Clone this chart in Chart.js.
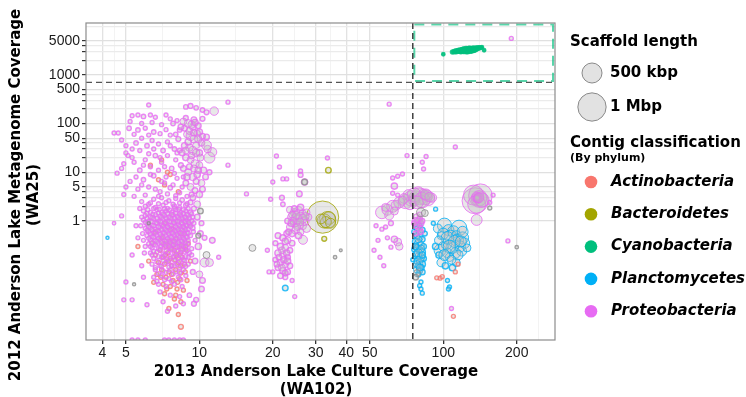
<!DOCTYPE html>
<html>
<head>
<meta charset="utf-8">
<script src="https://cdn.jsdelivr.net/npm/chart.js@4.4.1/dist/chart.umd.min.js"></script>
<style>
  html, body { margin: 0; padding: 0; background: #fff; }
  #wrap { width: 746px; height: 397px; }
</style>
</head>
<body>
<div id="wrap"><canvas id="chart" width="746" height="397"></canvas></div>
<script>
const phyla = ['Actinobacteria', 'Bacteroidetes', 'Cyanobacteria', 'Planctomycetes', 'Proteobacteria'];
const phylumColors = ['#F8766D', '#A3A500', '#00BF7D', '#00B0F6', '#E76BF3'];

const xTickLabels = [4, 5, 10, 20, 30, 40, 50, 100, 200];
const xMinorGrid = [4.47, 7.07, 14.1, 24.5, 34.6, 44.7, 70.7, 141, 245];
const yTickLabels = [1, 5, 10, 50, 100, 500, 1000, 5000];
const yMinorTicks = [2, 3, 4, 20, 30, 40, 200, 300, 400, 2000, 3000, 4000, 10000];

const cultureCutoff = 75;
const metagenomeCutoff = 700;

const scaffoldLegendKbp = [500, 1000];
const scaffoldLegendLabels = ['500 kbp', '1 Mbp'];

// [culture coverage (WA102), metagenome coverage (WA25), scaffold length kbp]
const actinobacteria = [
  [7.0, 0.45, 20], [7.5, 0.38, 20], [8.0, 0.42, 20], [7.3, 0.3, 20], [7.8, 0.32, 20], [8.3, 0.3, 20],
  [6.9, 0.25, 20], [7.4, 0.22, 20], [7.9, 0.25, 20], [8.4, 0.23, 20], [8.8, 0.26, 20], [7.1, 0.18, 20],
  [7.6, 0.17, 20], [8.1, 0.19, 20], [8.5, 0.18, 20], [6.8, 0.14, 20], [7.2, 0.13, 20], [7.7, 0.12, 20],
  [8.2, 0.14, 20], [8.7, 0.13, 20], [7.0, 0.1, 20], [7.5, 0.09, 20], [8.0, 0.1, 20], [8.4, 0.085, 20],
  [6.7, 0.08, 20], [7.3, 0.07, 20], [7.8, 0.06, 20], [8.3, 0.065, 20], [8.9, 0.06, 20], [7.1, 0.05, 20],
  [7.6, 0.045, 20], [8.1, 0.04, 20], [8.6, 0.038, 20], [7.2, 0.032, 20], [7.9, 0.025, 20], [8.4, 0.022, 20],
  [7.5, 0.016, 20], [8.2, 0.012, 20], [8.4, 0.0067, 30], [6.6, 0.6, 20], [7.7, 0.7, 20], [8.5, 0.55, 20],
  [7.2, 0.9, 20], [6.4, 0.35, 20], [9.0, 0.35, 20], [9.2, 0.15, 20], [6.2, 0.15, 20], [6.5, 0.055, 20],
  [5.6, 0.3, 20], [7.0, 18, 20], [7.4, 10, 20], [7.6, 9, 20], [7.2, 5.5, 20], [6.8, 7, 20], [8.2, 4, 20],
  [6.3, 14, 20], [7.25, 0.2, 20], [7.65, 0.28, 20], [8.05, 0.21, 20], [8.6, 0.3, 20], [7.45, 0.15, 20],
  [7.95, 0.16, 20], [8.35, 0.12, 20], [6.95, 0.07, 20], [7.7, 0.08, 20], [8.15, 0.055, 20], [7.35, 0.04, 20],
  [8.0, 0.03, 20], [7.85, 0.38, 20], [7.15, 0.35, 20], [8.75, 0.09, 20], [6.6, 0.2, 20],
  [97, 0.067, 20], [94, 0.068, 20], [99, 0.072, 20], [110, 0.011, 20], [115, 0.13, 20], [112, 0.09, 20]
];

const bacteroidetes = [
  [32, 1.2, 1300], [33.5, 1.05, 350], [32.5, 1.0, 250], [34, 1.15, 200], [33, 0.95, 150],
  [31.5, 1.1, 120], [34.5, 0.9, 120], [32.5, 0.43, 30], [33.8, 11, 40]
];

const cyanobacteria = [
  [109, 2950, 20], [111, 3000, 25], [113, 3050, 30], [115, 3100, 30], [117, 3150, 35], [119, 3150, 40],
  [121, 3200, 40], [123, 3250, 40], [125, 3200, 45], [127, 3300, 45], [129, 3350, 40], [131, 3300, 40],
  [133, 3400, 35], [135, 3450, 30], [137, 3500, 30], [139, 3550, 25], [141, 3600, 20], [143, 3620, 15],
  [118, 3050, 30], [122, 3100, 35], [126, 3100, 35], [130, 3150, 35], [124, 3400, 30], [128, 3450, 30],
  [132, 3500, 25], [120, 3300, 25], [134, 3250, 25], [125, 3000, 25], [129, 3150, 30], [133, 3200, 25],
  [127, 3500, 20], [121, 3400, 20], [136, 3300, 20], [100, 2650, 15], [144, 3700, 15], [147, 3200, 15]
];

const planctomycetes = [
  [78, 0.5, 40], [80, 0.45, 60], [82, 0.42, 40], [77, 0.38, 50], [79, 0.35, 80], [81, 0.32, 60],
  [83, 0.3, 40], [78, 0.28, 50], [80, 0.25, 70], [82, 0.23, 50], [77, 0.21, 40], [79, 0.19, 60],
  [81, 0.18, 80], [83, 0.17, 40], [78, 0.15, 50], [80, 0.14, 60], [82, 0.13, 50], [79, 0.12, 40],
  [81, 0.11, 50], [78, 0.1, 60], [80, 0.095, 40], [82, 0.09, 40], [79, 0.08, 30], [81, 0.056, 20],
  [80, 0.047, 20], [81, 0.04, 20], [82, 0.033, 20], [76, 0.6, 30], [78, 0.7, 30], [82, 0.65, 40],
  [80, 0.8, 30], [84, 0.55, 30], [76, 0.26, 30], [75, 0.16, 20], [79, 0.42, 60], [81, 0.27, 70],
  [79, 0.22, 80], [80, 0.16, 70], [78, 0.13, 60], [80, 0.11, 60], [82, 0.2, 50], [77, 0.3, 50],
  [101, 0.82, 250], [116, 0.72, 300], [95, 0.7, 100], [105, 0.65, 150], [110, 0.6, 180], [98, 0.5, 80],
  [107, 0.48, 200], [113, 0.5, 120], [120, 0.45, 180], [114, 0.4, 200], [97, 0.25, 180], [109, 0.29, 200],
  [117, 0.3, 160], [103, 0.33, 140], [100, 0.3, 120], [122, 0.35, 140], [104, 0.22, 120], [112, 0.22, 140],
  [119, 0.24, 120], [98, 0.14, 90], [113, 0.14, 80], [106, 0.18, 90], [125, 0.28, 80], [93, 0.3, 50],
  [96, 0.2, 50], [109, 0.11, 50], [102, 0.12, 50], [100, 0.55, 150], [104, 0.45, 200], [111, 0.38, 180],
  [118, 0.38, 150], [106, 0.3, 200], [101, 0.2, 150], [115, 0.2, 120], [108, 0.16, 100], [96, 0.4, 100],
  [120, 0.6, 150], [104, 0.06, 20], [106, 0.044, 20], [105, 0.04, 20], [93, 1.75, 20], [91, 0.9, 20],
  [22.5, 0.042, 40], [4.2, 0.45, 12]
];

const proteobacteria = [
  // sparse upper part of the main cloud
  [6.2, 240, 20], [8.8, 220, 25], [9.2, 230, 30], [9.7, 210, 25], [10.3, 190, 25], [10.7, 170, 30],
  [11.5, 180, 90], [13.1, 275, 20], [5.3, 145, 20], [5.6, 150, 20], [5.9, 140, 25], [6.3, 150, 20],
  [6.6, 135, 20], [7.3, 150, 20], [7.6, 125, 20], [8.8, 130, 30], [9.5, 120, 40], [10.3, 125, 30],
  [4.47, 64, 20], [4.65, 64, 20], [4.8, 46, 20], [5.15, 80, 25], [5.6, 74, 25], [6.0, 80, 20],
  [6.5, 67, 25], [7.6, 58, 20], [8.3, 74, 25], [8.7, 80, 40], [9.4, 85, 60], [10.0, 67, 50],
  [10.7, 53, 40], [5.0, 25, 20], [5.1, 22, 20], [4.6, 9.6, 20], [4.8, 12, 20], [5.0, 5, 20],
  [5.3, 30, 20], [5.5, 40, 25], [5.8, 50, 20], [6.1, 35, 25], [6.4, 45, 20], [6.8, 38, 20],
  [7.1, 28, 25], [7.4, 42, 20], [7.9, 30, 25], [8.2, 48, 30], [5.4, 16, 20], [5.7, 11, 25],
  [6.0, 18, 20], [6.3, 13, 20], [6.6, 22, 25], [7.0, 16, 20], [7.3, 8, 20], [7.7, 12, 25],
  [8.0, 18, 20], [8.4, 14, 30], [5.2, 6.5, 20], [5.6, 4.5, 20], [5.9, 7, 25], [6.2, 5, 20],
  [6.5, 8.5, 25], [6.9, 4, 20], [7.2, 6, 20], [7.6, 4.8, 25], [8.1, 7.5, 20], [8.3, 3.8, 20],
  [13.1, 14, 20], [4.47, 0.9, 15],
  [5.2, 110, 20], [5.8, 100, 20], [6.4, 105, 20], [7.0, 95, 20], [7.8, 100, 25], [8.1, 115, 20],
  [5.4, 60, 20], [6.2, 58, 20], [6.9, 62, 20], [7.3, 75, 20], [8.0, 60, 25], [5.0, 35, 20],
  [5.7, 28, 20], [6.5, 30, 20], [7.6, 35, 20], [8.3, 28, 25], [5.3, 20, 20], [6.2, 24, 20],
  [6.9, 20, 20], [7.4, 22, 20], [8.1, 25, 20], [4.9, 15, 20], [5.9, 14, 20], [6.8, 11, 20],
  [7.2, 13, 20], [7.9, 9.5, 20], [8.6, 8, 20], [5.5, 8, 20], [6.3, 9, 20], [7.0, 6.5, 20],
  [7.8, 5.5, 20], [8.5, 5, 20], [5.8, 5.5, 20], [6.6, 4.5, 20], [7.4, 3.6, 20], [8.0, 3.3, 20],
  [6.0, 3.4, 20], [5.4, 3.2, 20], [4.9, 3.5, 20], [8.9, 3.2, 20], [9.3, 3.5, 30], [6.8, 3.2, 20],
  // dense column around 9-11x
  [8.6, 110, 60], [9.0, 100, 80], [9.3, 95, 70], [9.6, 105, 50], [9.9, 90, 40], [8.9, 60, 60],
  [9.2, 55, 100], [9.5, 48, 80], [9.8, 62, 60], [10.2, 40, 50], [8.7, 35, 50], [9.1, 32, 70],
  [9.4, 28, 90], [9.7, 36, 60], [10.0, 25, 50], [11.0, 20, 150], [11.3, 26, 100], [10.8, 30, 70],
  [10.7, 36, 120], [8.8, 20, 50], [9.2, 18, 60], [9.6, 15, 80], [10.0, 14, 60], [10.4, 11, 50],
  [8.6, 12, 40], [9.0, 10, 60], [9.4, 8, 70], [9.8, 9, 50], [10.2, 6, 60], [8.8, 6, 40],
  [9.2, 5, 60], [9.6, 4.2, 40], [10.0, 3.5, 50], [10.6, 8, 40], [11.0, 10, 30], [8.5, 25, 40],
  [8.4, 85, 40], [9.8, 2.2, 60], [9.1, 70, 60], [9.5, 65, 50], [9.9, 48, 70], [10.3, 55, 40],
  [9.0, 42, 50], [8.8, 28, 60], [9.3, 22, 50], [9.7, 25, 70], [10.1, 20, 60], [9.5, 12, 60],
  [9.9, 11, 50], [9.1, 13, 40], [8.9, 8, 50], [9.7, 6.5, 40], [10.3, 4.5, 40], [9.4, 3.0, 40],
  // dense core
  [6.5, 2.8, 20], [7.0, 3.0, 20], [7.5, 2.6, 20], [8.0, 2.9, 20], [8.5, 2.7, 25], [9.2, 2.4, 30],
  [5.8, 2.5, 20], [6.2, 2.2, 20], [6.0, 2.0, 20], [6.6, 1.9, 20], [7.1, 2.1, 20], [7.4, 1.8, 20],
  [7.9, 2.0, 25], [8.3, 1.9, 20], [8.8, 2.1, 25], [9.5, 1.8, 30], [5.9, 1.6, 20], [6.3, 1.5, 20],
  [6.7, 1.7, 20], [7.0, 1.5, 20], [7.3, 1.6, 20], [7.7, 1.5, 20], [8.0, 1.7, 20], [8.4, 1.5, 20],
  [8.8, 1.6, 20], [9.2, 1.5, 25], [6.0, 1.3, 20], [6.3, 1.2, 20], [6.6, 1.35, 20], [6.9, 1.25, 20],
  [7.2, 1.3, 20], [7.5, 1.2, 20], [7.8, 1.35, 20], [8.1, 1.25, 20], [8.4, 1.3, 20], [8.7, 1.2, 20],
  [9.0, 1.3, 20], [5.9, 1.05, 20], [6.2, 1.0, 20], [6.5, 1.1, 20], [6.8, 1.0, 20], [7.1, 1.08, 20],
  [7.4, 1.0, 20], [7.7, 1.1, 20], [8.0, 1.0, 20], [8.3, 1.08, 20], [8.6, 1.0, 20], [8.9, 1.05, 20],
  [9.3, 1.0, 25], [6.1, 0.87, 20], [6.4, 0.82, 20], [6.7, 0.9, 20], [7.0, 0.84, 20], [7.3, 0.88, 20],
  [7.6, 0.82, 20], [7.9, 0.9, 20], [8.2, 0.84, 20], [8.5, 0.88, 20], [8.8, 0.82, 20], [9.1, 0.86, 20],
  [6.0, 0.7, 20], [6.3, 0.72, 20], [6.6, 0.68, 20], [6.9, 0.74, 20], [7.2, 0.7, 20], [7.5, 0.72, 20],
  [7.8, 0.68, 20], [8.1, 0.73, 20], [8.4, 0.7, 20], [8.7, 0.72, 20], [9.0, 0.68, 20], [9.4, 0.72, 25],
  [6.2, 0.6, 20], [6.5, 0.58, 20], [6.8, 0.62, 20], [7.1, 0.58, 20], [7.4, 0.6, 20], [7.7, 0.57, 20],
  [8.0, 0.61, 20], [8.3, 0.58, 20], [8.6, 0.6, 20], [8.9, 0.58, 20], [6.1, 0.5, 20], [6.4, 0.48, 20],
  [6.7, 0.51, 20], [7.0, 0.49, 20], [7.3, 0.5, 20], [7.6, 0.48, 20], [7.9, 0.51, 20], [8.2, 0.49, 20],
  [8.5, 0.5, 20], [8.8, 0.48, 20], [9.2, 0.5, 20], [6.3, 0.41, 20], [6.6, 0.4, 20], [6.9, 0.42, 20],
  [7.2, 0.4, 20], [7.5, 0.41, 20], [7.8, 0.4, 20], [8.1, 0.42, 20], [8.4, 0.4, 20], [8.7, 0.41, 20],
  [9.0, 0.4, 20], [6.2, 0.34, 20], [6.5, 0.33, 20], [6.8, 0.35, 20], [7.1, 0.33, 20], [7.4, 0.34, 20],
  [7.7, 0.33, 20], [8.0, 0.35, 20], [8.3, 0.33, 20], [8.6, 0.34, 20], [9.0, 0.33, 20], [6.4, 0.28, 20],
  [6.8, 0.27, 20], [7.2, 0.29, 20], [7.6, 0.27, 20], [8.0, 0.28, 20], [8.4, 0.27, 20], [8.8, 0.28, 20],
  [9.3, 0.27, 20], [6.3, 0.22, 20], [6.7, 0.23, 20], [7.1, 0.21, 20], [7.5, 0.23, 20], [7.9, 0.22, 20],
  [8.3, 0.21, 20], [8.7, 0.23, 20], [9.1, 0.22, 20], [6.5, 0.17, 20], [7.0, 0.18, 20], [7.4, 0.16, 20],
  [7.8, 0.18, 20], [8.2, 0.17, 20], [8.6, 0.16, 20], [9.0, 0.18, 20], [6.4, 0.13, 20], [6.9, 0.12, 20],
  [7.3, 0.14, 20], [7.7, 0.12, 20], [8.1, 0.13, 20], [8.5, 0.12, 20], [9.0, 0.13, 20], [6.6, 0.1, 20],
  [7.1, 0.095, 20], [7.6, 0.1, 20], [8.0, 0.09, 20], [8.6, 0.1, 20], [6.5, 0.07, 20], [7.0, 0.075, 20],
  [7.5, 0.065, 20], [8.2, 0.07, 20], [8.8, 0.075, 20], [6.8, 0.05, 20], [7.3, 0.045, 20], [7.9, 0.05, 20],
  [8.5, 0.045, 20], [6.9, 0.035, 20], [7.6, 0.03, 20], [8.3, 0.028, 20], [7.1, 0.022, 20], [8.0, 0.018, 20],
  [7.4, 0.014, 20], [8.6, 0.02, 20], [9.1, 0.03, 25],
  [6.3, 2.35, 20], [6.8, 2.25, 20], [7.3, 2.4, 20], [7.8, 2.2, 20], [8.3, 2.35, 20], [8.9, 2.25, 20],
  [6.15, 1.7, 20], [6.5, 1.8, 20], [6.85, 1.72, 20], [7.2, 1.78, 20], [7.55, 1.68, 20], [7.9, 1.82, 20],
  [8.25, 1.74, 20], [8.6, 1.7, 20], [9.0, 1.8, 20], [6.1, 1.43, 20], [6.45, 1.37, 20], [6.8, 1.45, 20],
  [7.1, 1.38, 20], [7.4, 1.42, 20], [7.7, 1.36, 20], [8.0, 1.44, 20], [8.3, 1.39, 20], [8.6, 1.43, 20],
  [8.9, 1.37, 20], [9.3, 1.41, 20], [6.1, 1.13, 20], [6.4, 1.17, 20], [6.7, 1.12, 20], [7.0, 1.18, 20],
  [7.3, 1.14, 20], [7.6, 1.16, 20], [7.9, 1.12, 20], [8.2, 1.18, 20], [8.5, 1.13, 20], [8.8, 1.17, 20],
  [9.1, 1.14, 20], [6.0, 0.93, 20], [6.35, 0.97, 20], [6.65, 0.92, 20], [6.95, 0.96, 20], [7.25, 0.93, 20],
  [7.55, 0.97, 20], [7.85, 0.94, 20], [8.15, 0.98, 20], [8.45, 0.92, 20], [8.75, 0.96, 20], [9.05, 0.94, 20],
  [6.2, 0.77, 20], [6.5, 0.8, 20], [6.8, 0.76, 20], [7.1, 0.79, 20], [7.4, 0.76, 20], [7.7, 0.8, 20],
  [8.0, 0.77, 20], [8.3, 0.79, 20], [8.6, 0.76, 20], [8.9, 0.8, 20], [9.2, 0.77, 20], [6.1, 0.64, 20],
  [6.4, 0.66, 20], [6.7, 0.63, 20], [7.0, 0.67, 20], [7.3, 0.64, 20], [7.6, 0.66, 20], [7.9, 0.63, 20],
  [8.2, 0.67, 20], [8.5, 0.64, 20], [8.8, 0.66, 20], [6.3, 0.54, 20], [6.6, 0.56, 20], [6.9, 0.53, 20],
  [7.2, 0.56, 20], [7.5, 0.54, 20], [7.8, 0.56, 20], [8.1, 0.53, 20], [8.4, 0.56, 20], [8.7, 0.54, 20],
  [9.0, 0.56, 20], [6.2, 0.44, 20], [6.5, 0.46, 20], [6.8, 0.44, 20], [7.1, 0.46, 20], [7.4, 0.44, 20],
  [7.7, 0.46, 20], [8.0, 0.44, 20], [8.3, 0.46, 20], [8.6, 0.44, 20], [8.9, 0.46, 20], [6.4, 0.36, 20],
  [6.7, 0.38, 20], [7.0, 0.36, 20], [7.3, 0.38, 20], [7.6, 0.36, 20], [7.9, 0.38, 20], [8.2, 0.36, 20],
  [8.5, 0.38, 20], [8.8, 0.36, 20], [6.3, 0.3, 20], [6.6, 0.32, 20], [6.95, 0.3, 20], [7.25, 0.32, 20],
  [7.55, 0.3, 20], [7.85, 0.32, 20], [8.15, 0.3, 20], [8.45, 0.32, 20], [8.8, 0.3, 20], [6.5, 0.24, 20],
  [6.9, 0.26, 20], [7.3, 0.245, 20], [7.7, 0.26, 20], [8.1, 0.24, 20], [8.5, 0.255, 20], [8.9, 0.245, 20],
  [6.4, 0.2, 20], [6.8, 0.185, 20], [7.2, 0.195, 20], [7.6, 0.185, 20], [8.0, 0.2, 20], [8.4, 0.19, 20],
  [8.8, 0.185, 20], [6.7, 0.145, 20], [7.1, 0.155, 20], [7.5, 0.145, 20], [7.9, 0.155, 20], [8.3, 0.148, 20],
  [8.7, 0.152, 20], [6.6, 0.11, 20], [7.0, 0.118, 20], [7.5, 0.112, 20], [7.9, 0.12, 20], [8.3, 0.11, 20],
  [8.8, 0.117, 20], [6.8, 0.083, 20], [7.3, 0.088, 20], [7.8, 0.082, 20], [8.3, 0.087, 20], [6.7, 0.058, 20],
  [7.2, 0.062, 20], [7.7, 0.057, 20], [8.4, 0.062, 20],
  [5.8, 1.2, 20], [5.75, 0.8, 20], [5.85, 0.55, 20], [5.9, 0.4, 20], [9.4, 1.2, 20], [9.5, 0.9, 20],
  [9.45, 0.6, 20], [9.6, 0.4, 20], [9.3, 0.2, 20], [5.95, 0.22, 20],
  // outliers round the main cloud
  [4.8, 1.27, 20], [5.3, 0.2, 20], [5.8, 0.12, 20], [4.9, 0.024, 20], [5.3, 0.024, 20], [5.0, 0.056, 20],
  [6.1, 0.019, 20], [10.5, 0.14, 100], [11.0, 0.14, 80], [11.3, 0.4, 40], [10.3, 0.06, 40], [10.2, 0.04, 40],
  [9.7, 0.024, 30], [9.5, 0.02, 30], [10.1, 0.55, 40], [10.5, 0.45, 30], [5.5, 0.8, 20], [5.6, 0.45, 20],
  [5.7, 1.8, 20], [9.8, 1.2, 40], [10.2, 0.9, 30], [9.9, 0.3, 50], [10.0, 0.08, 60], [6.0, 0.3, 20],
  [5.9, 0.07, 20], [9.4, 0.09, 30], [9.6, 0.15, 40], [12.0, 0.18, 20],
  [5.3, 0.0036, 20], [5.6, 0.0036, 20], [6.0, 0.0036, 20], [7.2, 0.0036, 20], [7.5, 0.0036, 20],
  [7.9, 0.0036, 20], [8.3, 0.0036, 20], [8.6, 0.0036, 20],
  // 20-28x cloud
  [20.7, 21.6, 20], [21.3, 12.8, 20], [20, 6.3, 20], [22, 7.3, 20], [22.8, 7.3, 20], [26, 10.6, 20],
  [26, 8.8, 30], [27, 6.3, 60], [33.5, 19.6, 20], [15.6, 3.6, 20], [19.6, 2.8, 20], [21.8, 3.0, 30],
  [25.7, 3.6, 40], [22, 2.2, 25], [23.5, 1.7, 60], [24.5, 1.5, 80], [25.5, 1.6, 100], [26.5, 1.4, 80],
  [27.5, 1.5, 60], [24, 1.2, 100], [25, 1.1, 150], [26, 1.2, 120], [27, 1.0, 100], [24.5, 0.9, 80],
  [25.5, 0.85, 120], [26.5, 0.8, 80], [23.5, 0.75, 60], [24.8, 0.65, 80], [26, 0.6, 60], [27.5, 0.7, 80],
  [23, 1.0, 40], [28, 1.2, 60], [22.8, 0.55, 40], [26.6, 0.41, 100], [21, 0.5, 40], [22, 0.45, 50],
  [23, 0.4, 60], [24, 0.35, 40], [20.5, 0.35, 30], [21.5, 0.3, 50], [22.5, 0.28, 60], [23.5, 0.25, 40],
  [21, 0.22, 50], [22, 0.2, 60], [23, 0.18, 40], [20.5, 0.16, 30], [21.5, 0.14, 50], [22.5, 0.13, 60],
  [23.5, 0.12, 40], [21, 0.11, 40], [22, 0.095, 50], [23, 0.09, 40], [21.5, 0.075, 40], [22.5, 0.07, 30],
  [20, 0.09, 20], [24.6, 0.028, 20], [19, 0.25, 20], [19.3, 0.09, 20], [24, 0.06, 20],
  [24, 1.35, 60], [25, 1.3, 80], [26.5, 1.1, 100], [24.3, 1.0, 60], [25.8, 0.95, 80], [23.8, 0.9, 50],
  [25.2, 0.75, 60], [24, 0.55, 50], [23.2, 0.6, 40], [25.5, 0.5, 50], [22.5, 0.38, 50], [21.8, 0.25, 60],
  [22.8, 0.22, 50], [21.2, 0.18, 40], [22.2, 0.16, 50], [20.8, 0.13, 40], [23, 0.15, 50], [21.8, 0.11, 60],
  [22.5, 0.085, 40], [24.5, 1.8, 40], [26, 1.9, 50], [27.2, 1.25, 70],
  // 50-90x cloud
  [70, 2.5, 250], [74, 2.9, 300], [77, 3.1, 200], [80, 3.2, 350], [84, 3.0, 250], [87, 2.8, 200],
  [72, 3.4, 150], [79, 3.8, 180], [83, 3.6, 120], [76, 2.6, 150], [81, 2.5, 200], [86, 3.3, 150],
  [90, 3.0, 100], [73, 2.3, 200], [76, 3.4, 250], [82, 2.7, 300], [85, 3.5, 150], [78, 2.4, 200],
  [69, 2.9, 120], [88, 3.1, 120], [78, 1.2, 60], [80, 1.1, 40], [77, 1.0, 50], [79, 0.95, 80],
  [81, 0.9, 40], [78, 0.8, 50], [80, 0.7, 40], [79, 0.6, 60], [77, 0.55, 30], [81, 0.6, 30],
  [80, 1.35, 30], [82, 1.0, 30], [76, 0.9, 30], [56, 1.5, 200], [59, 1.7, 150], [62, 2.0, 180],
  [64, 2.1, 120], [66, 2.4, 150], [60, 1.3, 100], [68, 2.6, 100], [58, 1.9, 80], [63, 1.6, 80],
  [71, 22, 20], [85, 21, 20], [82, 16, 20], [83, 11.7, 20], [62, 7.6, 20], [65, 8.3, 20], [68, 9.2, 20],
  [63, 5.2, 50], [62, 3.7, 20], [65, 3.4, 20], [61, 0.9, 30], [56, 0.68, 20], [53, 0.8, 20],
  [58, 0.75, 20], [65, 0.37, 80], [63, 0.42, 50], [66, 0.3, 70], [61, 0.29, 20], [59, 0.45, 20],
  [55, 0.18, 20], [57, 0.12, 20], [54, 0.4, 20], [52, 0.25, 20], [60, 250, 20], [112, 33, 20],
  // 130-160x cloud and far right
  [135, 2.6, 850], [142, 3.3, 700], [133, 3.4, 500], [140, 2.9, 300], [138, 3.0, 150], [139, 3.1, 80],
  [137, 2.2, 400], [144, 2.7, 250], [138, 2.9, 100], [139, 3.0, 60], [138, 3.1, 40], [137, 2.9, 50],
  [140, 3.0, 120], [137, 1.05, 150], [160, 3.4, 20], [155, 2.4, 20], [184, 0.39, 20],
  [108, 0.016, 20], [190, 5600, 20]
];

const unclassified = [
  [16.5, 0.28, 60], [36, 0.18, 15], [155, 1.85, 20], [200, 0.29, 15], [81, 1.5, 100], [84, 1.45, 60],
  [78, 0.085, 60], [77, 0.07, 40], [10.7, 0.2, 60], [10.1, 1.6, 40], [9.9, 0.5, 30], [27, 6.3, 40],
  [38, 0.25, 10], [5.4, 0.05, 12], [6.2, 0.9, 12]
];

const groups = [proteobacteria, actinobacteria, bacteroidetes, cyanobacteria, planctomycetes];
const groupPhylum = [4, 0, 1, 2, 3];

function radiusFor(kbp) {
  return 10 * Math.sqrt(kbp / 500);
}

function withAlpha(hex, a) {
  const n = parseInt(hex.slice(1), 16);
  return `rgba(${(n >> 16) & 255}, ${(n >> 8) & 255}, ${n & 255}, ${a})`;
}

function toPoints(rows) {
  return rows.map(([x, y, kbp]) => ({x, y, kbp}));
}

const datasets = [{
  label: 'unclassified',
  data: toPoints(unclassified),
  borderColor: 'rgba(140, 140, 140, 0.8)',
  backgroundColor: 'rgba(190, 190, 190, 0.35)'
}];
groups.forEach((rows, i) => {
  const color = phylumColors[groupPhylum[i]];
  datasets.push({
    label: phyla[groupPhylum[i]],
    data: toPoints(rows),
    borderColor: withAlpha(color, 0.8),
    backgroundColor: groupPhylum[i] === 2 ? withAlpha(color, 0.9) : 'rgba(190, 190, 190, 0.35)'
  });
});

const decorations = {
  id: 'decorations',
  beforeDraw(chart) {
    const {ctx, width, height} = chart;
    ctx.save();
    ctx.fillStyle = '#fff';
    ctx.fillRect(0, 0, width, height);
    ctx.restore();
  },
  afterDatasetsDraw(chart) {
    const {ctx, chartArea: area, scales: {x, y}} = chart;
    const cx = x.getPixelForValue(cultureCutoff);
    const cy = y.getPixelForValue(metagenomeCutoff);
    ctx.save();

    ctx.strokeStyle = withAlpha(phylumColors[2], 0.65);
    ctx.lineWidth = 2;
    ctx.setLineDash([10, 7]);
    ctx.strokeRect(cx + 1.5, area.top + 1.5, area.right - cx - 3.5, cy - area.top - 3);

    ctx.lineWidth = 1.2;
    ctx.setLineDash([6, 4]);
    ctx.strokeStyle = '#555';
    ctx.beginPath();
    ctx.moveTo(area.left, cy);
    ctx.lineTo(area.right, cy);
    ctx.stroke();
    ctx.strokeStyle = '#111';
    ctx.beginPath();
    ctx.moveTo(cx, area.top);
    ctx.lineTo(cx, area.bottom);
    ctx.stroke();

    ctx.setLineDash([]);
    ctx.strokeStyle = '#8c8c8c';
    ctx.lineWidth = 1.2;
    ctx.strokeRect(area.left, area.top, area.right - area.left, area.bottom - area.top);
    ctx.restore();
  },
  afterDraw(chart) {
    const {ctx} = chart;
    ctx.save();
    ctx.fillStyle = '#000';
    ctx.textBaseline = 'middle';

    // axis titles
    ctx.font = 'bold 15px "DejaVu Sans"';
    ctx.textAlign = 'center';
    ctx.fillText('2013 Anderson Lake Culture Coverage', 316, 372);
    ctx.fillText('(WA102)', 316, 390);
    ctx.save();
    ctx.translate(16, 195);
    ctx.rotate(-Math.PI / 2);
    ctx.fillText('2012 Anderson Lake Metagenome Coverage', 0, 0);
    ctx.restore();
    ctx.save();
    ctx.translate(34, 195);
    ctx.rotate(-Math.PI / 2);
    ctx.fillText('(WA25)', 0, 0);
    ctx.restore();

    // scaffold length legend
    ctx.textAlign = 'left';
    ctx.fillText('Scaffold length', 570, 42);
    scaffoldLegendKbp.forEach((kbp, i) => {
      const yy = 73 + i * 34;
      ctx.beginPath();
      ctx.arc(592, yy, radiusFor(kbp), 0, Math.PI * 2);
      ctx.fillStyle = '#e2e2e2';
      ctx.fill();
      ctx.strokeStyle = '#8a8a8a';
      ctx.lineWidth = 1;
      ctx.stroke();
      ctx.fillStyle = '#000';
      ctx.font = 'bold 15px "DejaVu Sans"';
      ctx.fillText(scaffoldLegendLabels[i], 610, yy);
    });

    // phylum legend
    ctx.fillText('Contig classification', 570, 143);
    ctx.font = 'bold 11px "DejaVu Sans"';
    ctx.fillText('(By phylum)', 570, 158);
    ctx.font = 'italic bold 15px "DejaVu Sans"';
    phyla.forEach((name, i) => {
      const yy = 182 + i * 32.3;
      ctx.beginPath();
      ctx.arc(591, yy, 6.3, 0, Math.PI * 2);
      ctx.fillStyle = phylumColors[i];
      ctx.fill();
      ctx.fillStyle = '#000';
      ctx.fillText(name, 611, yy);
    });
    ctx.restore();
  }
};

new Chart(document.getElementById('chart'), {
  type: 'scatter',
  data: {datasets},
  plugins: [decorations],
  options: {
    responsive: false,
    animation: false,
    events: [],
    layout: {padding: {left: 0, top: 23, right: 191, bottom: 0}},
    elements: {
      point: {
        radius: (ctx) => radiusFor(ctx.raw ? ctx.raw.kbp : 20),
        borderWidth: (ctx) => (ctx.raw && ctx.raw.kbp < 60 ? 1.4 : 1)
      }
    },
    plugins: {legend: {display: false}, tooltip: {enabled: false}},
    scales: {
      x: {
        type: 'logarithmic',
        min: 3.43,
        max: 287,
        afterFit: (scale) => { scale.height = 57; },
        afterBuildTicks: (scale) => {
          scale.ticks = [...xTickLabels, ...xMinorGrid].sort((a, b) => a - b).map((value) => ({value}));
        },
        ticks: {
          autoSkip: false,
          maxRotation: 0,
          padding: 1,
          color: '#1a1a1a',
          font: {family: 'Liberation Sans', size: 14},
          callback: (value) => (xTickLabels.includes(value) ? String(value) : '')
        },
        grid: {
          color: (ctx) => (xTickLabels.includes(ctx.tick.value) ? '#e2e2e2' : '#f3f3f3'),
          lineWidth: (ctx) => (xTickLabels.includes(ctx.tick.value) ? 1.3 : 1),
          tickColor: (ctx) => (xTickLabels.includes(ctx.tick.value) ? '#333' : 'rgba(0,0,0,0)'),
          tickLength: 4
        },
        border: {display: false}
      },
      y: {
        type: 'logarithmic',
        min: 0.0036,
        max: 11600,
        afterFit: (scale) => { scale.width = 86; },
        afterBuildTicks: (scale) => {
          scale.ticks = [...yTickLabels, ...yMinorTicks].sort((a, b) => a - b).map((value) => ({value}));
        },
        ticks: {
          autoSkip: false,
          padding: 2,
          color: '#1a1a1a',
          font: {family: 'Liberation Sans', size: 14},
          callback: (value) => (yTickLabels.includes(value) ? String(value) : '')
        },
        grid: {
          color: (ctx) => (yTickLabels.includes(ctx.tick.value) ? '#e0e0e0' : '#ebebeb'),
          lineWidth: 1.2,
          tickColor: (ctx) => (ctx.tick.value === 10000 ? 'rgba(0,0,0,0)' : '#333'),
          tickLength: 4
        },
        border: {display: false}
      }
    }
  }
});
</script>
</body>
</html>
